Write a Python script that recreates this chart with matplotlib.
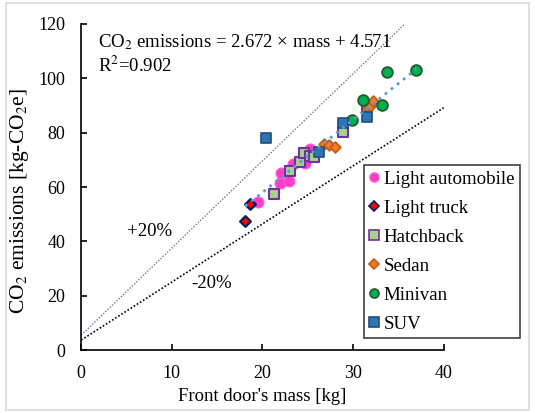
import matplotlib
matplotlib.use("Agg")
import matplotlib.pyplot as plt
from matplotlib.lines import Line2D
from matplotlib.patches import Rectangle
import numpy as np

plt.rcParams['font.family'] = ['Liberation Serif', 'DejaVu Serif']
plt.rcParams['mathtext.fontset'] = 'stix'

# ---- data ----
light_auto_x = [19.5, 21.9, 22.9, 22.0, 23.4, 24.7, 25.3]
light_auto_y = [54.6, 61.6, 62.2, 65.3, 68.5, 68.7, 73.9]
light_truck_x = [18.1, 18.6]
light_truck_y = [47.6, 53.7]
hatch_x = [21.3, 23.0, 24.1, 24.6, 25.2, 25.7, 28.9, 31.5]
hatch_y = [57.3, 65.9, 69.3, 72.7, 71.5, 71.1, 80.4, 89.0]
sedan_x = [26.8, 27.3, 28.0, 31.7, 31.9, 32.2]
sedan_y = [75.9, 75.3, 74.6, 89.0, 90.0, 91.8]
minivan_x = [29.9, 31.1, 33.2, 33.8, 37.0]
minivan_y = [84.8, 92.0, 90.2, 102.2, 103.0]
suv_x = [20.4, 26.2, 28.9, 31.5]
suv_y = [78.1, 73.0, 83.5, 85.8]

slope = 2.672
intercept = 4.571
r2 = 0.902
band = 0.20

x_ticks = [0, 10, 20, 30, 40]
y_ticks = [0, 20, 40, 60, 80, 100, 120]

fig = plt.figure(figsize=(5.35, 4.13), dpi=100)
fig.patches.append(Rectangle((0.011, 0.007), 0.978, 0.985, transform=fig.transFigure,
                             fill=False, edgecolor='#d9d9d9', lw=1.2))
ax = fig.add_axes([0.1518, 0.1525, 0.6775, 0.7894])

# +/-20% lines
xl = np.array([0, 40])
ax.plot(xl, (1 + band) * (slope * xl + intercept), linestyle=(0, (1, 1.2)),
        color='#6a7b9a', lw=1.0, zorder=1)
ax.plot(xl, (1 - band) * (slope * xl + intercept), linestyle=(0, (1, 1.2)),
        color='black', lw=1.2, zorder=1)

series = [
    ("Light automobile", light_auto_x, light_auto_y, 'o', '#ff3dc8', '#ff5fd2', 62, 0.8),
    ("Light truck", light_truck_x, light_truck_y, 'D', '#ff0000', '#002060', 30, 1.6),
    ("Hatchback", hatch_x, hatch_y, 's', '#a9d18e', '#7030a0', 54, 1.5),
    ("Sedan", sedan_x, sedan_y, 'D', '#ed7d31', '#c55a11', 30, 1.3),
    ("Minivan", minivan_x, minivan_y, 'o', '#00b050', '#245a2e', 60, 1.3),
    ("SUV", suv_x, suv_y, 's', '#2e75b6', '#1f4e79', 54, 1.2),
]
handles = []
for i, (lab, xs, ys, m, fc, ec, s, lw) in enumerate(series):
    ax.scatter(xs, ys, marker=m, s=s, facecolor=fc, edgecolor=ec, linewidth=lw, zorder=3 + i)
    handles.append(Line2D([], [], linestyle='none', marker=m, markerfacecolor=fc,
                          markeredgecolor=ec, markeredgewidth=1.2,
                          markersize=6.5 if m in 'os' else 5.5, label=lab))

# regression line
all_x = light_auto_x + light_truck_x + hatch_x + sedan_x + minivan_x + suv_x
xr = np.array([min(all_x), max(all_x)])
ax.plot(xr, slope * xr + intercept, linestyle=(0, (1, 1.8)), color='#5b9bd5', lw=2.0, zorder=10)

ax.set_xlim(0, 40)
ax.set_ylim(0, 120)
ax.set_xticks(x_ticks)
ax.set_yticks(y_ticks)
for sp in ['top', 'right']:
    ax.spines[sp].set_visible(False)
for sp in ['left', 'bottom']:
    ax.spines[sp].set_linewidth(1.2)
ax.tick_params(direction='in', length=4, width=1.2, labelsize=13)
ax.tick_params(axis='x', pad=10.5)
ax.tick_params(axis='y', pad=11.5)

ax.set_xlabel("Front door's mass [kg]", fontsize=13.5)
ax.xaxis.set_label_coords(0.499, -0.118)
ax.set_ylabel("CO$_2$ emissions [kg-CO$_2$e]", fontsize=15.5)
ax.yaxis.set_label_coords(-0.138, 0.457)

ax.text(0.047, 0.945, "CO$_2$ emissions = %.3f \u00d7 mass + %.3f" % (slope, intercept),
        transform=ax.transAxes, fontsize=13.5, va='center', ha='left')
ax.text(0.047, 0.873, "R$^2$=%.3f" % r2, transform=ax.transAxes, fontsize=13.5,
        va='center', ha='left')

ax.annotate("+20%", xy=(150 / 535, 1 - 232 / 413), xycoords='figure fraction',
            ha='center', va='center', fontsize=13.5)
ax.annotate("-20%", xy=(212 / 535, 1 - 284 / 413), xycoords='figure fraction',
            ha='center', va='center', fontsize=13.5)

leg = fig.legend(handles=handles, loc='upper left', bbox_to_anchor=(0.680, 0.600),
                 bbox_transform=fig.transFigure, borderaxespad=0, fancybox=False,
                 edgecolor='#404040', fontsize=13.6, handlelength=0.5, handletextpad=0.25,
                 labelspacing=0.62, borderpad=0.3, framealpha=1)
leg.get_frame().set_linewidth(1.2)

fig.savefig("out.png", dpi=100)
